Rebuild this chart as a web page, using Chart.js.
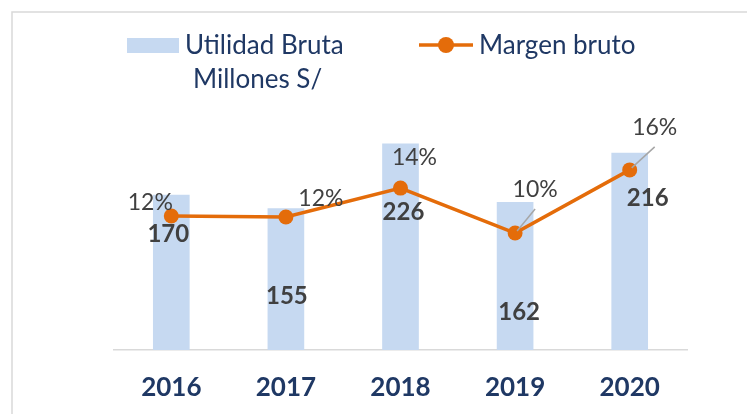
<!DOCTYPE html>
<html>
<head>
<meta charset="utf-8">
<script src="https://cdn.jsdelivr.net/npm/chart.js@4.4.0/dist/chart.umd.min.js"></script>
<style>
  html, body { margin: 0; padding: 0; background: #ffffff; }
  #wrap { position: relative; width: 747px; height: 414px; }
</style>
</head>
<body>
<div id="wrap"><canvas id="chart" width="747" height="414"></canvas></div>
<script>
// --- DATA ---
const years = ['2016', '2017', '2018', '2019', '2020'];
const utilidadBruta = [170, 155, 226, 162, 216];          // Millones S/
const margenBruto = [0.1175, 0.1167, 0.142, 0.1026, 0.158]; // ratio
const seriesNames = ['Utilidad Bruta Millones S/', 'Margen bruto'];

// --- LABEL PLACEMENT (manual, like the original) ---
const barLabelOffsets = [[-3, 39], [1, 88], [3, 68], [4, 110], [18, 45]];
const pctLabelOffsets = [[-21, -13], [35, -18], [14, -31], [20, -43], [25, -42]];
const pctLeaderLine = [false, false, false, true, true];

// --- STYLES ---
const BAR_COLOR = '#c6d9f1';
const LINE_COLOR = '#e46c0a';
const NAVY = '#1f3864';
const GREY_TEXT = '#404040';
const FONT = 'Lato, "Open Sans", sans-serif';

// frame lines on the top and left
const framePlugin = {
    id: 'frame',
    beforeDraw(chart) {
        const c = chart.ctx;
        c.save();
        c.strokeStyle = '#d9d9d9';
        c.lineWidth = 1.5;
        c.beginPath();
        c.moveTo(12, 414);
        c.lineTo(12, 12);
        c.lineTo(747, 12);
        c.stroke();
        c.restore();
    }
};

// legend drawn by hand so the bar label can wrap
const legendPlugin = {
    id: 'customLegend',
    afterDraw(chart) {
        const c = chart.ctx;
        c.save();
        c.font = '26px ' + FONT;
        c.fillStyle = NAVY;
        c.textBaseline = 'alphabetic';
        c.textAlign = 'left';

        // bar entry
        c.fillStyle = BAR_COLOR;
        c.fillRect(127, 38, 52, 15);
        c.fillStyle = NAVY;
        const words = seriesNames[0].split(' ');
        c.fillText(words.slice(0, 2).join(' '), 185, 54);
        c.fillText(words.slice(2).join(' '), 193, 88);

        // line entry
        c.strokeStyle = LINE_COLOR;
        c.lineWidth = 3.5;
        c.beginPath();
        c.moveTo(419, 45);
        c.lineTo(473, 45);
        c.stroke();
        c.fillStyle = LINE_COLOR;
        c.beginPath();
        c.arc(446, 45, 8, 0, Math.PI * 2);
        c.fill();
        c.fillStyle = NAVY;
        c.fillText(seriesNames[1], 479, 54);
        c.restore();
    }
};

// value labels for bars and line
const labelPlugin = {
    id: 'valueLabels',
    afterDatasetsDraw(chart) {
        const c = chart.ctx;
        c.save();
        c.textAlign = 'center';
        c.textBaseline = 'middle';

        const bars = chart.getDatasetMeta(0).data;
        c.font = 'bold 24px ' + FONT;
        c.fillStyle = GREY_TEXT;
        bars.forEach((bar, i) => {
            const [dx, dy] = barLabelOffsets[i];
            c.fillText(String(utilidadBruta[i]), bar.x + dx, bar.y + dy);
        });

        const points = chart.getDatasetMeta(1).data;
        c.font = '23px ' + FONT;
        points.forEach((pt, i) => {
            const [dx, dy] = pctLabelOffsets[i];
            const lx = pt.x + dx;
            const ly = pt.y + dy;
            if (pctLeaderLine[i]) {
                c.strokeStyle = '#a6a6a6';
                c.lineWidth = 1.5;
                c.beginPath();
                c.moveTo(lx, ly + 19);
                c.lineTo(pt.x + 2, pt.y - 2);
                c.stroke();
            }
            c.fillStyle = GREY_TEXT;
            c.fillText(Math.round(margenBruto[i] * 100) + '%', lx, ly);
        });
        c.restore();
    }
};

const ctx = document.getElementById('chart').getContext('2d');
const chart = new Chart(ctx, {
    data: {
        labels: years,
        datasets: [
            {
                type: 'bar',
                label: seriesNames[0],
                data: utilidadBruta,
                backgroundColor: BAR_COLOR,
                borderWidth: 0,
                barThickness: 36,
                yAxisID: 'y',
                order: 2
            },
            {
                type: 'line',
                label: seriesNames[1],
                data: margenBruto,
                borderColor: LINE_COLOR,
                backgroundColor: LINE_COLOR,
                borderWidth: 3.5,
                pointRadius: 7.5,
                pointBorderWidth: 0,
                pointBackgroundColor: LINE_COLOR,
                tension: 0,
                yAxisID: 'y2',
                order: 1
            }
        ]
    },
    options: {
        responsive: false,
        animation: false,
        layout: { padding: { left: 114, right: 60, top: 122, bottom: 11 } },
        plugins: {
            legend: { display: false },
            tooltip: { enabled: false }
        },
        scales: {
            x: {
                grid: { display: false, drawTicks: false },
                border: { display: true, color: '#d9d9d9', width: 1.5 },
                ticks: {
                    color: NAVY,
                    padding: 22,
                    font: { family: FONT, size: 26, weight: 'bold' }
                },
                afterFit(scale) { scale.height = 53; }
            },
            y: { display: false, min: 0, max: 250 },
            y2: { display: false, min: 0, max: 0.20, position: 'right' }
        }
    },
    plugins: [framePlugin, legendPlugin, labelPlugin]
});
</script>
</body>
</html>
